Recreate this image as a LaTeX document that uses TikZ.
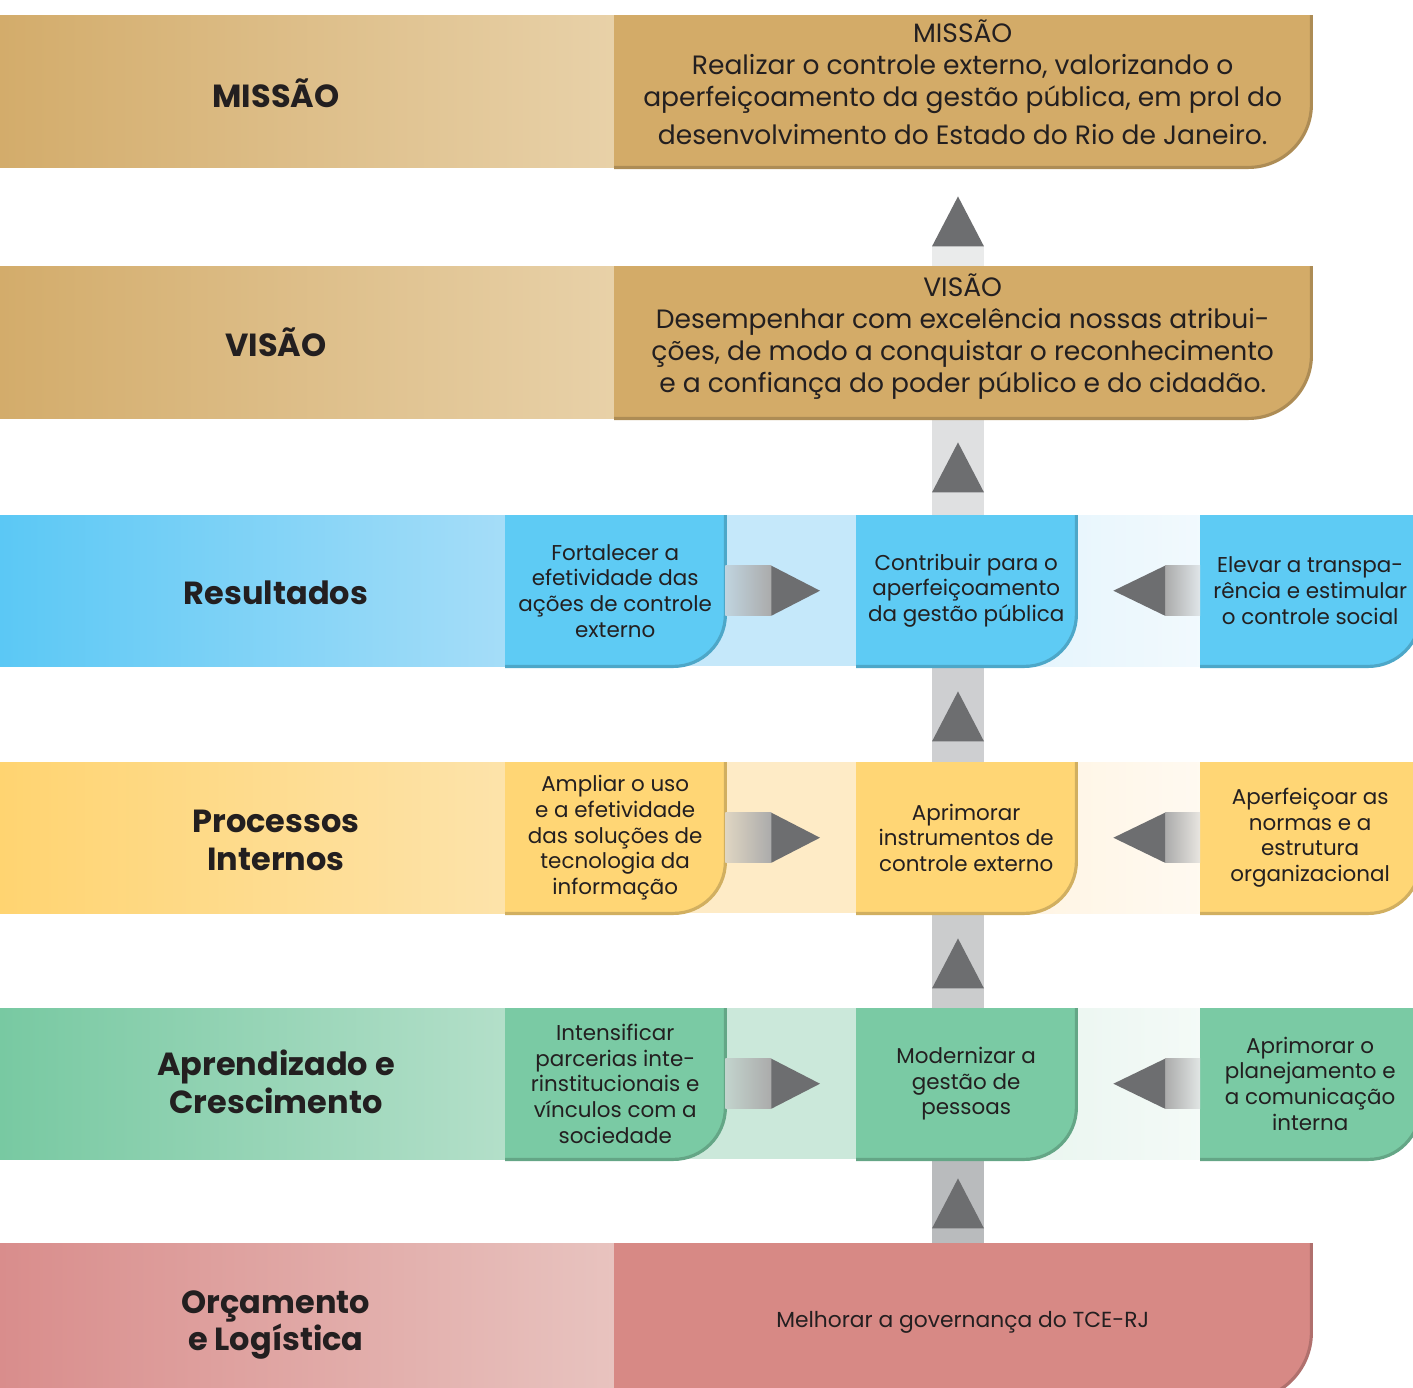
\documentclass[tikz,border=0pt]{standalone}
\usepackage{fontspec}
\setmainfont{Poppins}
\usetikzlibrary{calc,backgrounds}

\definecolor{inkgray}{HTML}{231F20}
\definecolor{tanbox}{HTML}{D3AB68}
\definecolor{tanleft}{HTML}{D3AC6B}
\definecolor{tanright}{HTML}{E8D1A8}
\definecolor{bluebox}{HTML}{5ECBF4}
\definecolor{blueleft}{HTML}{5BC8F5}
\definecolor{blueright}{HTML}{A5DDF8}
\definecolor{bluemid}{HTML}{C5E8FA}
\definecolor{bluepale}{HTML}{E1F3FC}
\definecolor{yelbox}{HTML}{FFD675}
\definecolor{yelleft}{HTML}{FFD471}
\definecolor{yelright}{HTML}{FDE3AA}
\definecolor{yelmid}{HTML}{FEEBC6}
\definecolor{yelpale}{HTML}{FFF3DF}
\definecolor{grnbox}{HTML}{7ACAA4}
\definecolor{grnleft}{HTML}{78C9A2}
\definecolor{grnright}{HTML}{B3DFC9}
\definecolor{grnmid}{HTML}{CBE8DA}
\definecolor{grnpale}{HTML}{E6F4ED}
\definecolor{redbox}{HTML}{D78985}
\definecolor{redleft}{HTML}{D98D8C}
\definecolor{redright}{HTML}{E8C3BF}
\definecolor{tipgray}{HTML}{6D6E70}
\definecolor{bargray}{HTML}{B9BBBD}

% box with one round corner, drawn behind its node
\newcommand\tabfill[3]{% node, colour, radius
  \fill[#2] (#1.north west) -- (#1.north east) -- ([yshift=#3]#1.south east)
    arc[start angle=0, end angle=-90, radius=#3] -- (#1.south west) -- cycle;
  \draw[#2!82!black, line width=0.9pt] (#1.north east) -- ([yshift=#3]#1.south east)
    arc[start angle=0, end angle=-90, radius=#3] -- (#1.south west);}
% up triangle under a row
\newcommand\uptip[2]{% upper node, gap to tip
  \fill[tipgray] ($(#1.south -| axis)+(0,-#2)$) -- ++(0.26,-0.5) -- ++(-0.52,0) -- cycle;}
% block arrows between boxes
\newcommand\rblk[3]{% from, to, tint
  \shade[left color=#3!55!bargray, right color=black!33] ($(#1.east)+(0,0.25)$) rectangle ($(#1.east)+(0.46,-0.25)$);
  \fill[tipgray] ($(#1.east)+(0.46,0.25)$) -- ($(#2.west)+(-0.36,0)$) -- ($(#1.east)+(0.46,-0.25)$) -- cycle;}
\newcommand\lblk[3]{% from, to, tint
  \shade[left color=black!33, right color=#3!45!bargray!60!white] ($(#1.west)+(-0.35,0.25)$) rectangle ($(#1.west)+(0,-0.25)$);
  \fill[tipgray] ($(#1.west)+(-0.35,0.25)$) -- ($(#2.east)+(0.37,0)$) -- ($(#1.west)+(-0.35,-0.25)$) -- cycle;}

\begin{document}
\begin{tikzpicture}[every node/.style={text=inkgray},
                    rowlabel/.style={align=center,font=\fontsize{9.1}{10.8}\selectfont\bfseries},
                    bigbox/.style={anchor=north west,minimum width=6.96cm,minimum height=1.51cm,
                                   inner sep=0pt,align=center,text depth=0.18cm,
                                   font=\fontsize{7.55}{9.1}\selectfont},
                    smallbox/.style={anchor=north west,minimum width=2.19cm,minimum height=1.50cm,
                                   inner sep=0pt,align=center,font=\fontsize{6.1}{7.3}\selectfont},
                    vbar/.style={line width=0.52cm,draw=#1}
                   ]
   \useasboundingbox (0,0) rectangle (14.13,-13.87);
   \coordinate (axis) at (9.58,0);

   % row labels
   \node[rowlabel] (lmis) at (2.76,-0.93) {MISSÃO};
   \node[rowlabel] (lvis) at (2.76,-3.42) {VISÃO};
   \node[rowlabel] (lres) at (2.76,-5.93) {Resultados};
   \node[rowlabel] (lpro) at (2.76,-8.40) {Processos\\Internos};
   \node[rowlabel] (lapr) at (2.76,-10.82) {Aprendizado e\\Crescimento};
   \node[rowlabel] (lorc) at (2.76,-13.25) {Orçamento\\e Logística};

   % boxes
   \node[bigbox] (mis) at (6.14,-0.15) {MISSÃO\\Realizar o controle externo, valorizando o\\
        aperfeiçoamento da gestão pública, em prol do\\[0.06cm]desenvolvimento do Estado do Rio de Janeiro.};
   \node[bigbox] (vis) at (6.14,-2.66) {VISÃO\\Desempenhar com excelência nossas atribui-\\
        ções, de modo a conquistar o reconhecimento\\e a confiança do poder público e do cidadão.};

   \node[smallbox] (res1) at (5.05,-5.15) {Fortalecer a\\efetividade das\\ações de controle\\externo};
   \node[smallbox] (res2) at (8.56,-5.15) {Contribuir para o\\aperfeiçoamento\\da gestão pública};
   \node[smallbox] (res3) at (12.00,-5.15) {Elevar a transpa-\\rência e estimular\\o controle social};

   \node[smallbox] (pro1) at (5.05,-7.62) {Ampliar o uso\\e a efetividade\\das soluções de\\tecnologia da\\informação};
   \node[smallbox] (pro2) at (8.56,-7.62) {Aprimorar\\instrumentos de\\controle externo};
   \node[smallbox] (pro3) at (12.00,-7.62) {Aperfeiçoar as\\normas e a\\estrutura\\organizacional};

   \node[smallbox] (apr1) at (5.05,-10.08) {Intensificar\\parcerias inte-\\rinstitucionais e\\vínculos com a\\sociedade};
   \node[smallbox] (apr2) at (8.56,-10.08) {Modernizar a\\gestão de\\pessoas};
   \node[smallbox] (apr3) at (12.00,-10.08) {Aprimorar o\\planejamento e\\a comunicação\\interna};

   \node[bigbox,minimum height=1.56cm,text depth=0.05cm,font=\fontsize{6.2}{7.3}\selectfont] (orc) at (6.14,-12.43)
        {Melhorar a governança do TCE-RJ};

   \begin{scope}[on background layer]
     \clip (0,0) rectangle (14.13,-13.87);
     % bands
     \shade[left color=tanleft,right color=tanright] (0,-0.15) rectangle (mis.south west);
     \shade[left color=tanleft,right color=tanright] (0,-2.66) rectangle (vis.south west);
     \shade[left color=blueleft,right color=blueright] (0,-5.15) rectangle (res1.south west);
     \shade[left color=yelleft,right color=yelright] (0,-7.62) rectangle (pro1.south west);
     \shade[left color=grnleft,right color=grnright] (0,-10.08) rectangle (apr1.south west);
     \shade[left color=redleft,right color=redright] (0,-12.43) rectangle (orc.south west);
     \fill[bluemid] (res1.north) rectangle (res2.south west);
     \shade[left color=bluepale,right color=bluepale!45!white] (res2.north) rectangle (res3.south west);
     \fill[yelmid] (pro1.north) rectangle (pro2.south west);
     \shade[left color=yelpale,right color=yelpale!45!white] (pro2.north) rectangle (pro3.south west);
     \fill[grnmid] (apr1.north) rectangle (apr2.south west);
     \shade[left color=grnpale,right color=grnpale!45!white] (apr2.north) rectangle (apr3.south west);

     % upward bar
     \draw[vbar=bargray] (orc.north -| axis) -- (apr2.south -| axis);
     \draw[vbar=bargray!75!white] (apr2.north -| axis) -- (pro2.south -| axis);
     \draw[vbar=bargray!70!white] (pro2.north -| axis) -- (res2.south -| axis);
     \draw[vbar=bargray!45!white] (res2.north -| axis) -- (vis.south -| axis);
     \draw[vbar=bargray!30!white,shorten >=0.79cm] (vis.north -| axis) -- (mis.south -| axis);

     \tabfill{mis}{tanbox}{0.63cm}
     \tabfill{vis}{tanbox}{0.63cm}
     \tabfill{res1}{bluebox}{0.52cm}
     \tabfill{res2}{bluebox}{0.52cm}
     \tabfill{res3}{bluebox}{0.52cm}
     \tabfill{pro1}{yelbox}{0.52cm}
     \tabfill{pro2}{yelbox}{0.52cm}
     \tabfill{pro3}{yelbox}{0.52cm}
     \tabfill{apr1}{grnbox}{0.52cm}
     \tabfill{apr2}{grnbox}{0.52cm}
     \tabfill{apr3}{grnbox}{0.52cm}
     \tabfill{orc}{redbox}{0.68cm}

     \uptip{mis}{0.29}
     \uptip{vis}{0.24}
     \uptip{res2}{0.25}
     \uptip{pro2}{0.25}
     \uptip{apr2}{0.19}

     \rblk{res1}{res2}{bluemid}
     \lblk{res3}{res2}{bluepale}
     \rblk{pro1}{pro2}{yelmid}
     \lblk{pro3}{pro2}{yelpale}
     \rblk{apr1}{apr2}{grnmid}
     \lblk{apr3}{apr2}{grnpale}
   \end{scope}
\end{tikzpicture}
\end{document}
